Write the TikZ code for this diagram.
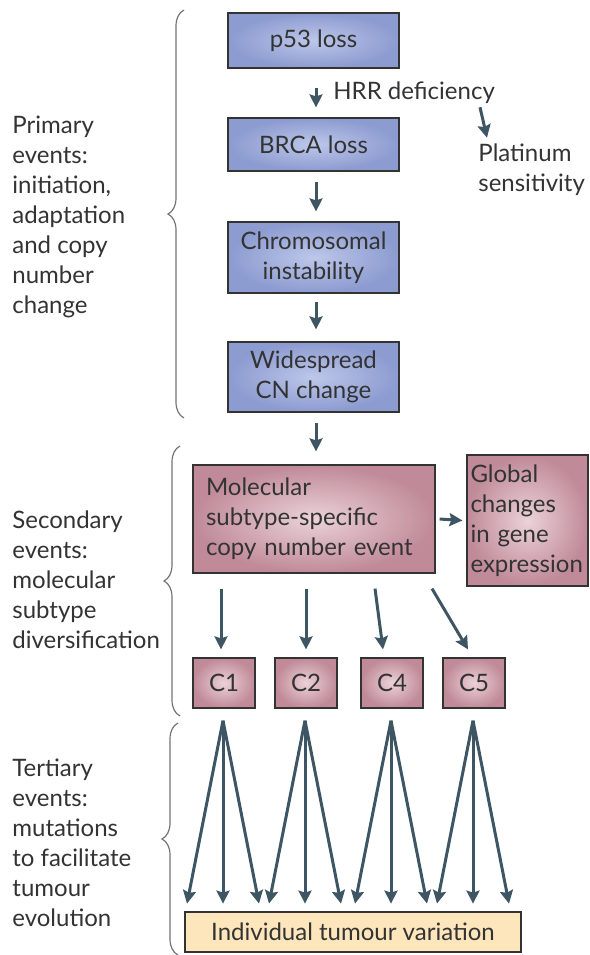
\documentclass[tikz,border=0pt]{standalone}
\usepackage{fontspec}
\setmainfont{Lato}
\usetikzlibrary{arrows.meta, calc, decorations.pathreplacing}
\usetikzlibrary{positioning}
\definecolor{arrowcol}{HTML}{3E5663}
\definecolor{blueout}{HTML}{8C9BD0}
\definecolor{bluein}{HTML}{BDC7EA}
\definecolor{pinkout}{HTML}{C08A98}
\definecolor{pinkin}{HTML}{EBD2D8}
\definecolor{creamfill}{HTML}{FDE5BC}
\definecolor{textcol}{HTML}{333333}
\tikzstyle{bluebox} = [rectangle, draw=black!80, line width=0.6pt, shading=radial,
inner color=bluein, outer color=blueout, minimum width=85.5pt, align=center, text=textcol]
\tikzstyle{pinkbox} = [rectangle, draw=black!80, line width=0.6pt, shading=radial,
inner color=pinkin, outer color=pinkout, align=left, text=textcol]
\tikzstyle{cbox} = [pinkbox, minimum width=31pt, minimum height=25pt, align=center]
\tikzstyle{label} = [align=left, anchor=west, text=textcol, inner sep=0pt]
\tikzstyle{arrow} = [line width=1.5pt, draw=arrowcol, -{Stealth[length=6.5pt, width=6.5pt, inset=1pt]}]
\tikzstyle{bracket} = [draw=black!55, line width=0.6pt, decorate, decoration={brace, amplitude=8pt}]

\begin{document}
\begin{tikzpicture}[x=0.5pt, y=-0.5pt, font=\fontsize{12}{15}\selectfont]
    \useasboundingbox (0,0) rectangle (590,955);

    % primary events
    \node (p53) [bluebox, minimum height=27.5pt] at (313.5,40.5) {p53 loss};
    \node (brca) [bluebox, minimum height=26.5pt] at (313.5,144.5) {BRCA loss};
    \node (chrom) [bluebox, minimum height=35.5pt] at (313.5,257.5) {Chromosomal\\instability};
    \node (wide) [bluebox, minimum height=35pt] at (313.5,377) {Widespread\\CN change};
    \node (hrr) [label] at (333,93) {HRR deficiency};
    \node (plat) [label] at (478,170) {Platinum\\sensitivity};

    % secondary events
    \node (mol) [pinkbox, minimum width=121pt, minimum height=54pt, text width=108pt] at (314,519)
    {Molecular\\subtype-specific\\copy number event};
    \node (glob) [pinkbox, minimum width=60.5pt, minimum height=65.5pt, text width=57pt, inner sep=1.5pt] at (527.5,520.5)
    {Global\\changes\\in gene\\expression};
    \node (c1) [cbox] at (224,683) {C1};
    \node (c2) [cbox] at (306,683) {C2};
    \node (c4) [cbox] at (392,683) {C4};
    \node (c5) [cbox] at (474,683) {C5};

    % tertiary events
    \node (indiv) [rectangle, draw=black!80, line width=0.6pt, fill=creamfill, text=textcol,
    minimum width=168pt, minimum height=20pt] at (353,932) {Individual tumour variation};

    % left labels
    \node (prim) [label] at (12,217) {Primary\\events:\\initiation,\\adaptation\\and copy\\number\\change};
    \node (sec) [label] at (12,580) {Secondary\\events:\\molecular\\subtype\\diversification};
    \node (tert) [label] at (12,843) {Tertiary\\events:\\mutations\\to facilitate\\tumour\\evolution};

    % braces
    \draw[bracket] (184,418) -- (184,10);
    \draw[bracket] (180,716) -- (180,446);
    \draw[bracket] (178,955) -- (178,723);

    % connectors
    \draw[arrow] ($(p53.south)+(2.5,19)$) -- ($(brca.north)+(2.5,-10)$);
    \draw[arrow] ($(hrr.south west)+(147,3)$) -- ($(plat.north west)+(9,-6)$);
    \draw[arrow] ($(brca.south)+(2.5,10)$) -- ($(chrom.north)+(2.5,-10)$);
    \draw[arrow] ($(chrom.south)+(2.5,8)$) -- ($(wide.north)+(2.5,-12)$);
    \draw[arrow] ($(wide.south)+(2.5,10)$) -- ($(mol.north)+(2,-13)$);
    \draw[arrow] ($(mol.east)+(4,0)$) -- ($(glob.west)+(-4,0)$);
    \draw[arrow] ($(mol.south)+(-93,15)$) -- ($(c1.north)+(-3,-8)$);
    \draw[arrow] ($(mol.south)+(-8,15)$) -- ($(c2.north)+(0,-8)$);
    \draw[arrow] ($(mol.south)+(61,15)$) -- ($(c4.north)+(-9,-8)$);
    \draw[arrow] ($(mol.south)+(118,15)$) -- ($(c5.north)+(-6,-8)$);
    \foreach \c in {c1, c2, c4, c5} {
        \foreach \dx in {-36, 0, 36}
            \draw[arrow] ($(\c.south)+(-1,12)$) -- ($(\c.south)+(\dx-1,195)$);
    }

\end{tikzpicture}
\end{document}
